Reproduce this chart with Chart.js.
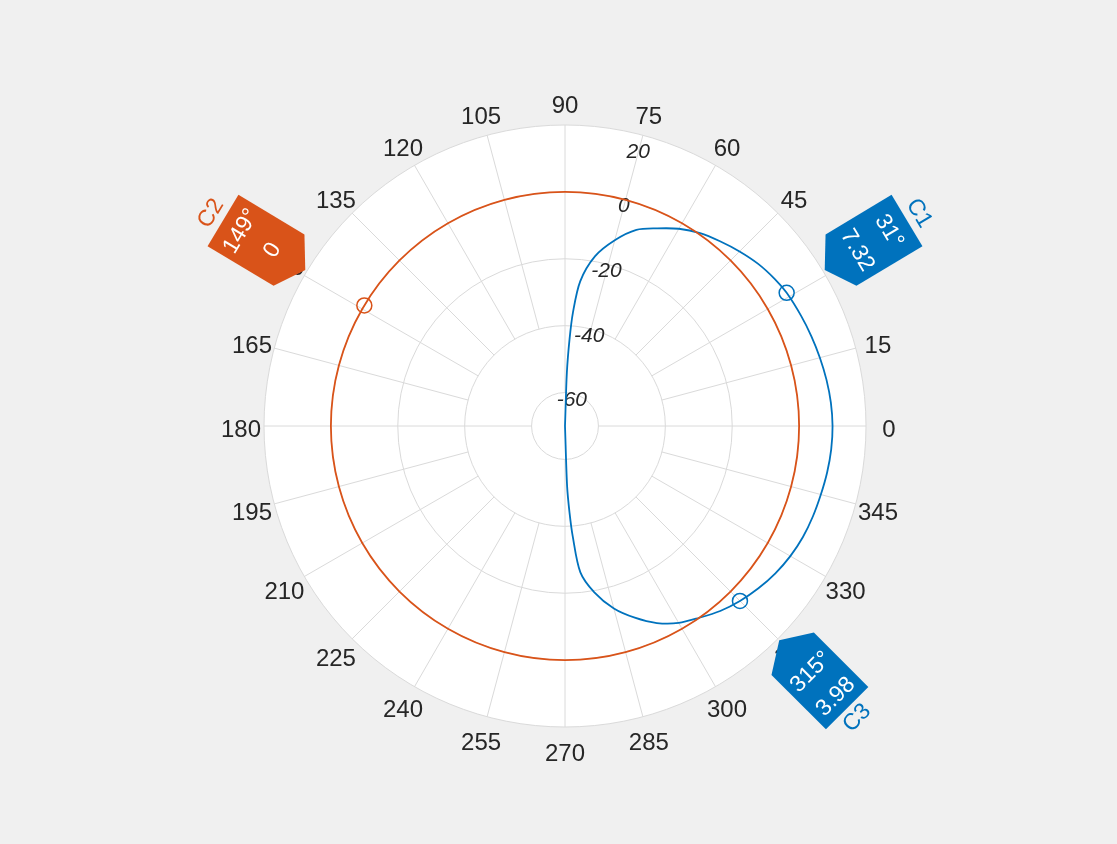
<!DOCTYPE html>
<html>
<head>
<meta charset="utf-8">
<script src="https://cdn.jsdelivr.net/npm/chart.js@4.4.1/dist/chart.umd.min.js"></script>
<style>
  html, body { margin: 0; padding: 0; background: #f0f0f0; }
  #wrap { width: 1117px; height: 844px; position: relative; }
</style>
</head>
<body>
<div id="wrap"><canvas id="polarChart"></canvas></div>
<script>
// angle labels and radial (dB) ticks
const angleTicks = [0, 15, 30, 45, 60, 75, 90, 105, 120, 135, 150, 165, 180, 195, 210, 225, 240, 255, 270, 285, 300, 315, 330, 345];
const radialTicks = [-60, -40, -20, 0, 20];
const rMin = -70;
const rMax = 20;

// series 1 (blue), degrees / dB
const blueAngles = [0, 5, 10, 15, 20, 25, 31, 35, 40, 45, 50, 55, 60, 65, 70, 75, 80, 84, 86, 87, 88, 90,
  180, 270, 272, 273, 274, 276, 280, 285, 290, 295, 300, 305, 310, 315, 320, 325, 330, 335, 340, 345, 350, 355];
const blueGain = [10.0, 9.8, 9.4, 8.9, 8.4, 7.9, 7.32, 6.6, 5.4, 3.8, 2.1, 0.4, -1.9, -4.8, -7.6, -12.5, -18.5, -26.5, -36, -44, -54, -70,
  -70, -70, -52, -44, -37, -26, -19.5, -13.5, -9.0, -5.0, -2.0, 0.0, 2.2, 3.98, 5.5, 6.8, 7.8, 8.5, 8.9, 9.2, 9.6, 9.9];

// series 2 (orange)
const orangeAngles = [0, 15, 30, 45, 60, 75, 90, 105, 120, 135, 150, 165, 180, 195, 210, 225, 240, 255, 270, 285, 300, 315, 330, 345];
const orangeGain = [0, 0, 0, 0, 0, 0, 0, 0, 0, 0, 0, 0, 0, 0, 0, 0, 0, 0, 0, 0, 0, 0, 0, 0];

// data cursors
const cursorNames = ['C1', 'C2', 'C3'];
const cursorAngles = [31, 149, 315];
const cursorValues = [7.32, 0, 3.98];
const cursorText = ['7.32', '0', '3.98'];
const cursorSeries = [0, 1, 0];

const seriesColors = ['#0072BD', '#D95319'];
const flagColors = ['#0072BD', '#D95319'];
const textColor = '#262626';
const gridColor = '#dadada';
const font = '"Liberation Sans", Arial, Helvetica, sans-serif';

// one label per degree, counter-clockwise from the right
const labels = [];
for (let i = 0; i < 360; i++) labels.push((360 - i) % 360);
function toIndex(a) { return (360 - Math.round(a)) % 360; }
function spread(angles, values) {
  const arr = new Array(360).fill(null);
  angles.forEach((a, k) => { arr[toIndex(a)] = values[k]; });
  return arr;
}

const datasets = [
  {
    label: 'orange',
    data: spread(orangeAngles, orangeGain),
    borderColor: seriesColors[1],
    borderWidth: 1.8,
    pointRadius: 0,
    fill: false,
    spanGaps: true,
    tension: 0.34,
    order: 1
  },
  {
    label: 'blue',
    data: spread(blueAngles, blueGain),
    borderColor: seriesColors[0],
    borderWidth: 1.8,
    pointRadius: 0,
    fill: false,
    spanGaps: true,
    tension: 0.3,
    order: 2
  }
];
cursorAngles.forEach((a, k) => {
  datasets.push({
    label: cursorNames[k],
    data: spread([a], [cursorValues[k]]),
    showLine: false,
    pointRadius: 7.5,
    pointBorderWidth: 1.5,
    pointBorderColor: seriesColors[cursorSeries[k]],
    pointBackgroundColor: 'rgba(0,0,0,0)',
    order: 0
  });
});

const polarPlugin = {
  id: 'polarDecor',
  beforeDraw(chart) {
    const ctx = chart.ctx;
    const scale = chart.scales.r;
    ctx.save();
    ctx.fillStyle = '#f0f0f0';
    ctx.fillRect(0, 0, chart.width, chart.height);
    ctx.fillStyle = '#ffffff';
    ctx.beginPath();
    ctx.arc(scale.xCenter, scale.yCenter, scale.drawingArea, 0, Math.PI * 2);
    ctx.fill();
    ctx.restore();
  },
  beforeDatasetsDraw(chart) {
    const ctx = chart.ctx;
    const scale = chart.scales.r;
    const outer = scale.drawingArea;
    ctx.save();
    // spokes: cardinal ones reach the -60 ring, the others stop at -40
    ctx.strokeStyle = gridColor;
    ctx.lineWidth = 1;
    angleTicks.forEach((a) => {
      const inner = scale.getDistanceFromCenterForValue(a % 90 === 0 ? -60 : -40);
      const p0 = scale.getPointPosition(toIndex(a), inner);
      const p1 = scale.getPointPosition(toIndex(a), outer);
      ctx.beginPath();
      ctx.moveTo(p0.x, p0.y);
      ctx.lineTo(p1.x, p1.y);
      ctx.stroke();
    });
    // angle labels
    ctx.fillStyle = textColor;
    ctx.font = '24px ' + font;
    ctx.textAlign = 'center';
    ctx.textBaseline = 'middle';
    angleTicks.forEach((a) => {
      const p = scale.getPointPosition(toIndex(a), outer + 23);
      ctx.fillText(String(a), p.x, p.y + 4);
    });
    // radial tick labels along 75 degrees
    ctx.font = 'italic 21px ' + font;
    radialTicks.forEach((v) => {
      const d = Math.min(scale.getDistanceFromCenterForValue(v) - 7, outer - 18);
      const p = scale.getPointPosition(toIndex(75), d);
      ctx.fillText(String(v), p.x, p.y);
    });
    ctx.restore();
  },
  afterDraw(chart) {
    const ctx = chart.ctx;
    const scale = chart.scales.r;
    const cx = scale.xCenter, cy = scale.yCenter;
    cursorAngles.forEach((a, k) => {
      const tip = scale.getPointPosition(toIndex(a), scale.drawingArea + 2);
      const len = Math.hypot(tip.x - cx, tip.y - cy);
      const ux = (tip.x - cx) / len, uy = (tip.y - cy) / len;
      let phi = Math.atan2(ux, -uy);
      let s = -1;
      if (phi > Math.PI / 2) { phi -= Math.PI; s = 1; }
      else if (phi < -Math.PI / 2) { phi += Math.PI; s = 1; }
      const color = flagColors[cursorSeries[k]];
      const W = 60, h1 = 19, H = 96;
      ctx.save();
      ctx.translate(tip.x, tip.y);
      ctx.rotate(phi);
      ctx.fillStyle = color;
      ctx.beginPath();
      ctx.moveTo(0, 0);
      ctx.lineTo(-W / 2, s * h1);
      ctx.lineTo(-W / 2, s * H);
      ctx.lineTo(W / 2, s * H);
      ctx.lineTo(W / 2, s * h1);
      ctx.closePath();
      ctx.fill();
      ctx.fillStyle = '#ffffff';
      ctx.font = '23px ' + font;
      ctx.textAlign = 'center';
      ctx.textBaseline = 'middle';
      const vAngle = s < 0 ? 75 : 45;
      const vValue = s < 0 ? 38 : 80;
      ctx.fillText(a + '\u00b0', 0, s * vAngle);
      ctx.fillText(cursorText[k], 0, s * vValue);
      ctx.fillStyle = color;
      ctx.font = '23px ' + font;
      ctx.fillText(cursorNames[k], 0, s * 110);
      ctx.restore();
    });
  }
};

new Chart(document.getElementById('polarChart'), {
  type: 'radar',
  data: { labels: labels, datasets: datasets },
  options: {
    responsive: true,
    maintainAspectRatio: false,
    animation: false,
    layout: { padding: { left: 264, top: 125, right: 251, bottom: 117 } },
    plugins: { legend: { display: false }, tooltip: { enabled: false } },
    scales: {
      r: {
        min: rMin,
        max: rMax,
        startAngle: 90,
        grid: { circular: true, color: gridColor, lineWidth: 1 },
        angleLines: { display: false },
        pointLabels: { display: false },
        ticks: { display: false },
        afterBuildTicks: (scale) => {
          scale.ticks = [rMin].concat(radialTicks).map((v) => ({ value: v }));
        }
      }
    }
  },
  plugins: [polarPlugin]
});
</script>
</body>
</html>
